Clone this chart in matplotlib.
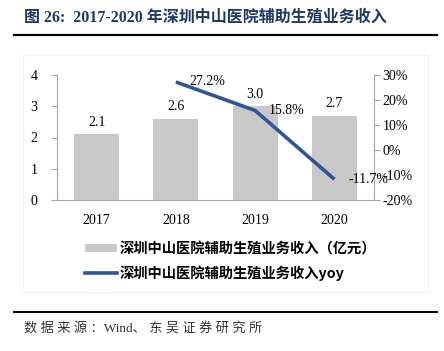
import matplotlib
matplotlib.use('Agg')
import matplotlib.pyplot as plt
from matplotlib.lines import Line2D
from matplotlib.patches import Patch, Rectangle

plt.rcParams['font.family'] = ['Liberation Serif', 'Noto Sans CJK SC']

years = ['2017', '2018', '2019', '2020']
revenue = [2.1, 2.6, 3.0, 2.7]          # 亿元
yoy_years = ['2018', '2019', '2020']
yoy = [27.2, 15.8, -11.7]               # %

bar_color = '#C8C8C8'
line_color = '#2F5597'
axis_color = '#A6A6A6'

def spaced(s):
    # 中文字之间加空格，模拟原图的字距
    return ' '.join(s)

fig = plt.figure(figsize=(4.44, 3.51), dpi=100)

# 外框（很淡）
fig.patches.append(Rectangle((23/444, 1-292/351), 405/444, 237/351, transform=fig.transFigure,
                             facecolor='none', edgecolor='#F2F2F2', lw=0.8))

# 标题
fig.text(24/444, 1-18/351, '图 26:  2017-2020 年深圳中山医院辅助生殖业务收入',
         family=['Liberation Serif', 'Noto Sans CJK SC'], fontweight='bold',
         fontsize=11.5, color='#1F3864', va='center', ha='left')
fig.add_artist(Line2D([14/444, 437/444], [1-35/351, 1-35/351], color='black', lw=1.6))

ax = fig.add_axes([57/444, 1-200/351, 317/444, 125/351])
x = range(len(years))
bars = ax.bar(x, revenue, width=0.57, color=bar_color, zorder=2)
for xi, v in zip(x, revenue):
    ax.annotate(f'{v:.1f}', (xi, v), xytext=(0, 4), textcoords='offset points',
                ha='center', va='bottom', fontsize=10)

ax.set_xlim(-0.5, len(years) - 0.5)
ax.set_ylim(0, 4)
ax.set_yticks([0, 1, 2, 3, 4])
ax.set_xticks(list(x))
ax.set_xticklabels(years, fontsize=10)
ax.tick_params(axis='x', length=0, pad=10)
ax.tick_params(axis='y', length=4, color=axis_color, labelsize=10, pad=10)
for s in ['top', 'right']:
    ax.spines[s].set_visible(False)
for s in ['left', 'bottom']:
    ax.spines[s].set_color(axis_color)

ax2 = ax.twinx()
xi_yoy = [years.index(y) for y in yoy_years]
ax2.plot(xi_yoy, yoy, color=line_color, lw=2.6, solid_capstyle='butt', zorder=3)
for xi, v in zip(xi_yoy, yoy):
    ax2.annotate(f'{v:.1f}%', (xi, v), xytext=(10, 0), textcoords='offset points',
                 ha='left', va='center', fontsize=10)
ax2.set_ylim(-20, 30)
ax2.set_yticks([-20, -10, 0, 10, 20, 30])
ax2.set_yticklabels([f'{t}%' for t in [-20, -10, 0, 10, 20, 30]])
ax2.tick_params(axis='y', length=4, color=axis_color, labelsize=10, pad=2)
for s in ['top', 'left', 'bottom']:
    ax2.spines[s].set_visible(False)
ax2.spines['right'].set_color(axis_color)

# 图例
handles = [Patch(facecolor=bar_color, edgecolor='none'),
           Line2D([0], [0], color=line_color, lw=2.6)]
labels = ['深圳中山医院辅助生殖业务收入（亿元）', '深圳中山医院辅助生殖业务收入yoy']
fig.legend(handles, labels, loc='upper left', bbox_to_anchor=(78/444, 1-235/351),
           frameon=False, handlelength=2.2, handleheight=0.5, handletextpad=0.2,
           labelspacing=0.6, borderpad=0,
           prop={'family': ['Noto Sans CJK SC'], 'weight': 'bold', 'size': 10.3})

# 数据来源
fig.add_artist(Line2D([14/444, 437/444], [1-312/351, 1-312/351], color='black', lw=1.4))
fig.text(24/444, 1-328/351, spaced('数据来源：') + 'Wind' + spaced('、东吴证券研究所'),
         family=['Liberation Serif', 'Noto Sans CJK SC'], fontsize=9.5, color='#333333',
         va='center', ha='left')

fig.savefig('out.png', dpi=100)
